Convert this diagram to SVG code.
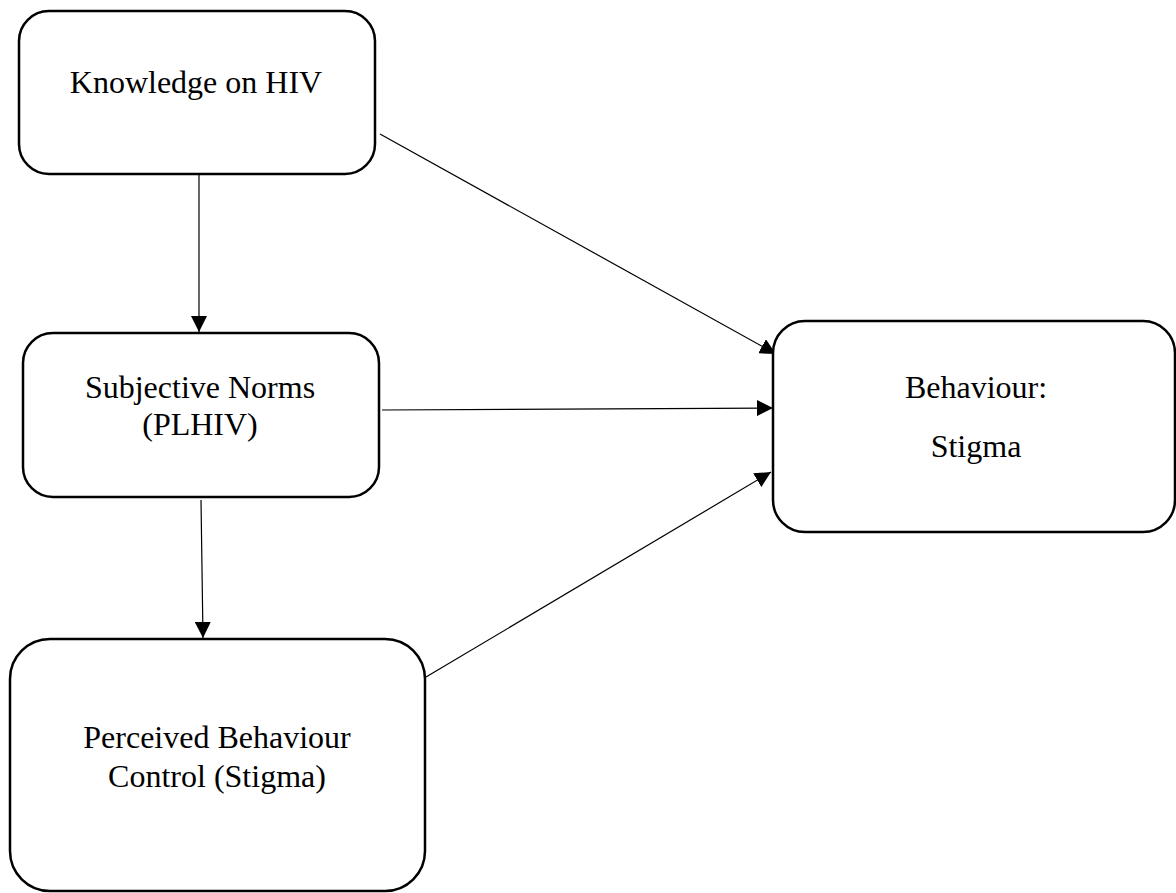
<svg xmlns="http://www.w3.org/2000/svg" width="1176" height="893" viewBox="0 0 1176 893">
<style>
.box{fill:#fff;stroke:#000;stroke-width:2.5}
.lbl{font-family:"Liberation Serif","Times New Roman",serif;font-size:32px;fill:#000;text-anchor:middle}
.conn{stroke:#000;stroke-width:1.2;fill:none;marker-end:url(#ah)}
</style>
<defs>
<marker id="ah" markerUnits="userSpaceOnUse" markerWidth="16" markerHeight="16" viewBox="0 0 16 16" refX="16" refY="8" orient="auto">
<path d="M0,0 L16,8 L0,16 Z" fill="#000"/>
</marker>
</defs>
<rect width="1176" height="893" fill="#fff"/>
<g id="connectors">
<line class="conn" x1="199" y1="175" x2="199" y2="332"/>
<line class="conn" x1="201" y1="500" x2="203" y2="638"/>
<line class="conn" x1="380" y1="134" x2="776" y2="354"/>
<line class="conn" x1="382" y1="410" x2="773" y2="408"/>
<line class="conn" x1="426" y1="677" x2="771" y2="472"/>
</g>
<g id="knowledge">
<rect class="box" x="19" y="11" width="356" height="163" rx="30"/>
<text class="lbl" x="196" y="93">Knowledge on HIV</text>
</g>
<g id="subjective">
<rect class="box" x="23" y="333" width="356" height="164" rx="30"/>
<text class="lbl" x="200" y="398">Subjective Norms</text>
<text class="lbl" x="200" y="435">(PLHIV)</text>
</g>
<g id="perceived">
<rect class="box" x="10" y="639" width="415" height="252" rx="40"/>
<text class="lbl" x="217" y="748">Perceived Behaviour</text>
<text class="lbl" x="217" y="787">Control (Stigma)</text>
</g>
<g id="behaviour">
<rect class="box" x="773" y="321" width="402" height="211" rx="32"/>
<text class="lbl" x="976" y="398">Behaviour:</text>
<text class="lbl" x="976" y="457">Stigma</text>
</g>
</svg>
